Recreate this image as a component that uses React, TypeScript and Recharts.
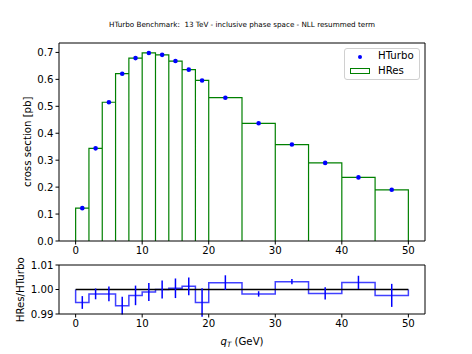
import { ComposedChart, Line, Scatter, XAxis, YAxis, Legend, ReferenceLine, ErrorBar } from "recharts";

// bin edges in q_T (GeV)
const binEdges = [0, 2, 4, 6, 8, 10, 12, 14, 16, 18, 20, 25, 30, 35, 40, 45, 50];
const hresXsec = [0.122, 0.344, 0.515, 0.621, 0.679, 0.698, 0.691, 0.668, 0.636, 0.596, 0.532, 0.437, 0.358, 0.290, 0.236, 0.190];
const hturboXsec = [0.122, 0.344, 0.515, 0.621, 0.679, 0.698, 0.691, 0.668, 0.636, 0.596, 0.532, 0.437, 0.358, 0.290, 0.236, 0.190];
const ratio = [0.9947, 0.9982, 0.9982, 0.9934, 0.9976, 0.999, 1.0, 1.0005, 1.0013, 0.9947, 1.0028, 0.9982, 1.0032, 0.9984, 1.0029, 0.9976];
const ratioErr = [0.0026, 0.0022, 0.003, 0.0036, 0.004, 0.0037, 0.0037, 0.004, 0.0036, 0.0058, 0.003, 0.0011, 0.0011, 0.0025, 0.0027, 0.0047];
const xTicks = [0, 10, 20, 30, 40, 50];
const xsecTicks = [0, 0.1, 0.2, 0.3, 0.4, 0.5, 0.6, 0.7];
const ratioTicks = [0.99, 1.0, 1.01];

const TITLE = "HTurbo Benchmark:  13 TeV - inclusive phase space - NLL resummed term";

const last = binEdges.length - 1;
const centers = hresXsec.map((_, i) => (binEdges[i] + binEdges[i + 1]) / 2);
const histOutline = hresXsec.flatMap((v, i) => [
  { x: binEdges[i], y: 0 },
  { x: binEdges[i], y: v },
  { x: binEdges[i + 1], y: v },
  { x: binEdges[i + 1], y: 0 },
]);
const turboPts = hturboXsec.map((v, i) => ({ x: centers[i], y: v }));
const ratioStep = [
  { x: binEdges[0], y: 1 },
  ...ratio.flatMap((r, i) => [{ x: binEdges[i], y: r }, { x: binEdges[i + 1], y: r }]),
  { x: binEdges[last], y: 1 },
];
const ratioPts = ratio.map((r, i) => ({ x: centers[i], y: r, err: ratioErr[i] }));

const FONT = "DejaVu Sans, sans-serif";
const tick = { fontSize: 10.2, fill: "#000", fontFamily: FONT };
const axisLine = { stroke: "#000", strokeWidth: 1 };

function LegendBox() {
  return (
    <div style={{ width: 76, height: 32, border: "1px solid #d0d0d0", borderRadius: 3, background: "rgba(255,255,255,0.8)",
      fontFamily: FONT, fontSize: 10.2, color: "#000", boxSizing: "border-box", position: "relative" }}>
      <span style={{ position: "absolute", left: 13, top: 6, width: 4.4, height: 4.4, borderRadius: "50%", background: "blue" }} />
      <span style={{ position: "absolute", left: 33, top: 1 }}>HTurbo</span>
      <span style={{ position: "absolute", left: 5, top: 19, width: 20, height: 6, border: "1.2px solid green", boxSizing: "border-box" }} />
      <span style={{ position: "absolute", left: 33, top: 16 }}>HRes</span>
    </div>
  );
}

export default function App() {
  return (
    <div style={{ position: "absolute", left: 0, top: 0, width: 472, height: 354, background: "#fff" }}>
      <div style={{ position: "absolute", left: 0, top: 0 }}>
        <ComposedChart width={472} height={262} margin={{ top: 43, right: 47, bottom: 0, left: 0 }}>
          <XAxis type="number" dataKey="x" domain={[-2.5, 52.5]} ticks={xTicks} interval={0} allowDataOverflow
            height={21} tickSize={3.5} tick={tick} axisLine={axisLine} tickLine={axisLine} />
          <YAxis type="number" dataKey="y" domain={[0, 0.735]} ticks={xsecTicks} interval={0} allowDataOverflow width={59}
            tickSize={3.5} tick={tick} axisLine={axisLine} tickLine={axisLine} tickFormatter={(v: number) => v.toFixed(1)} />
          <Line data={histOutline} dataKey="y" type="linear" stroke="green" strokeWidth={1.2} dot={false}
            isAnimationActive={false} name="HRes" />
          <Scatter data={turboPts} dataKey="y" fill="blue" isAnimationActive={false} name="HTurbo"
            shape={(p: any) => <circle cx={p.cx} cy={p.cy} r={2.3} fill="blue" />} />
          <Legend layout="horizontal" verticalAlign="middle" align="center" content={() => <LegendBox />}
            wrapperStyle={{ left: 344, top: 48, width: 76, height: 32 }} />
        </ComposedChart>
      </div>
      <div style={{ position: "absolute", left: 0, top: 240 }}>
        <ComposedChart width={472} height={114} margin={{ top: 25, right: 47, bottom: 0, left: 0 }}>
          <XAxis type="number" dataKey="x" domain={[-2.5, 52.5]} ticks={xTicks} interval={0} allowDataOverflow
            height={40} tickSize={3.5} tick={tick} axisLine={axisLine} tickLine={axisLine} />
          <YAxis type="number" dataKey="y" domain={[0.99, 1.01]} ticks={ratioTicks} interval={0} allowDataOverflow width={59}
            tickSize={3.5} tick={tick} axisLine={axisLine} tickLine={axisLine} tickFormatter={(v: number) => v.toFixed(2)} />
          <Line data={ratioStep} dataKey="y" type="linear" stroke="blue" strokeOpacity={0.75} strokeWidth={1.5}
            dot={false} isAnimationActive={false} />
          <ReferenceLine segment={[{ x: binEdges[0], y: 1 }, { x: binEdges[last], y: 1 }]} stroke="#000" strokeWidth={1.5} />
          <Scatter data={ratioPts} dataKey="y" isAnimationActive={false} shape={() => <g />}>
            <ErrorBar dataKey="err" direction="y" width={0} stroke="blue" strokeWidth={1.5} />
          </Scatter>
        </ComposedChart>
      </div>
      <svg width={472} height={354} style={{ position: "absolute", left: 0, top: 0, pointerEvents: "none" }}
        fontFamily={FONT}>
        {/* top and right spines */}
        <polyline points="59,43 425,43 425,241" fill="none" stroke="#000" strokeWidth={1} />
        <polyline points="59,265 425,265 425,314" fill="none" stroke="#000" strokeWidth={1} />
        <text x={242} y={26.5} fontSize={7.2} textAnchor="middle" fill="#000" style={{ whiteSpace: "pre" }}>{TITLE}</text>
        <text transform="translate(30.5,141.7) rotate(-90)" fontSize={10.2} textAnchor="middle" fill="#000">cross section [pb]</text>
        <text transform="translate(23.5,289.8) rotate(-90)" fontSize={10.2} textAnchor="middle" fill="#000">HRes/HTurbo</text>
        <text x={242} y={344.5} fontSize={10.2} textAnchor="middle" fill="#000">
          <tspan fontStyle="italic">q</tspan>
          <tspan fontStyle="italic" fontSize={7.2} dy={2}>T</tspan>
          <tspan dy={-2}> (GeV)</tspan>
        </text>
      </svg>
    </div>
  );
}
